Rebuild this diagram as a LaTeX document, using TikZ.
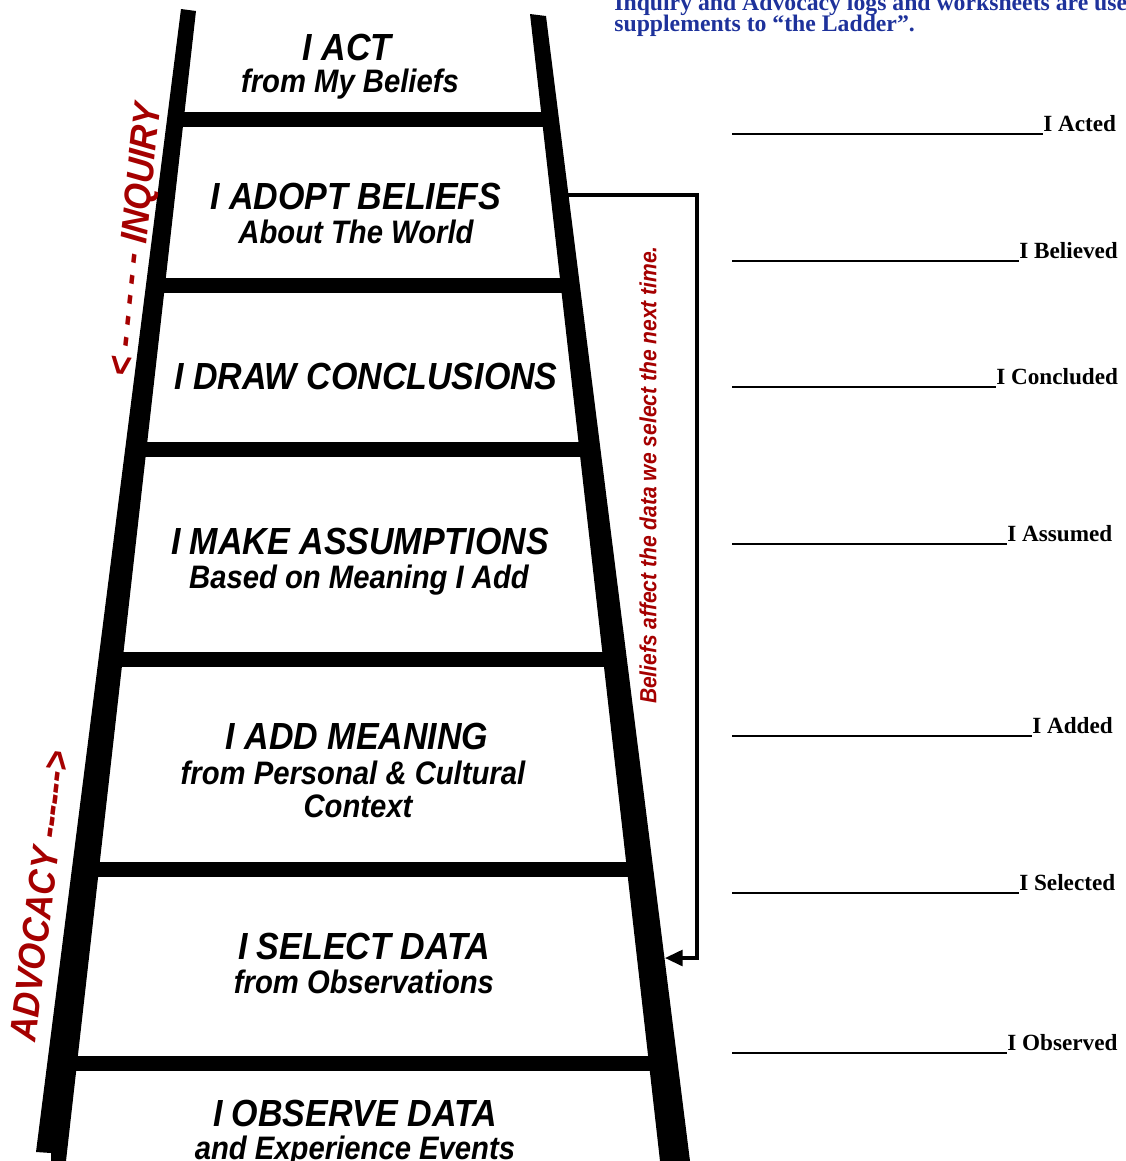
\documentclass[tikz,border=0pt]{standalone}
\usepackage{fontspec}
\usepackage{tikz}
\usetikzlibrary{arrows.meta,positioning}
\setmainfont{Liberation Serif}
\newfontfamily\ladderfont[FakeStretch=0.9]{Liberation Sans}
\definecolor{inqred}{RGB}{165,0,0}
\definecolor{noteblue}{RGB}{30,50,155}
\tikzset{rail/.style={fill=black}}
\tikzset{rung/.style={fill=black}}
\tikzset{step title/.style={anchor=base, inner sep=0pt,
    font=\ladderfont\bfseries\itshape\fontsize{21.5}{24}\selectfont}}
\tikzset{step sub/.style={step title,
    font=\ladderfont\bfseries\itshape\fontsize{18.5}{21}\selectfont}}
\tikzset{side label/.style={inqred, inner sep=0pt,
    font=\ladderfont\bfseries\itshape\fontsize{21.5}{24}\selectfont}}
\tikzset{loop note/.style={side label,
    font=\ladderfont\bfseries\itshape\fontsize{13.3}{15}\selectfont}}
\tikzset{answer/.style={anchor=base west, inner sep=0pt,
    font=\bfseries\fontsize{13.2}{15}\selectfont}}
\tikzset{note/.style={anchor=base west, inner sep=0pt, noteblue,
    font=\bfseries\fontsize{13.5}{15}\selectfont}}
\tikzset{loop edge/.style={draw, line width=1.8pt, -{Triangle[length=10pt,width=9pt]}}}

\begin{document}
\begin{tikzpicture}
      [x=0.02cm, y=-0.02cm]
      \useasboundingbox (0,0) rectangle (1126,1161);
      \clip (0,0) rectangle (1126,1161);

      % the ladder
      \fill [rail] (181,9) -- (196,11) -- (66,1161) -- (51,1161) -- (51,1153) -- (36,1152) -- cycle;
      \fill [rail] (530,14) -- (546,16) -- (690,1161) -- (660,1161) -- cycle;
      \foreach \ya/\xl/\xr in {112/174/552, 278/156/571, 442/138/589,
                               652/115/613, 862/90/637, 1056/70/658}
        \fill [rung] (\xl,\ya) rectangle (\xr,\ya+15);

      % steps
      \node [step title] (act)       at (347,  60) {I ACT};
      \node [step sub]   (act sub)   at (350,  92) {from My Beliefs};
      \node [step title] (adopt)     at (356, 209) {I ADOPT BELIEFS};
      \node [step sub]   (adopt sub) at (356, 243) {About The World};
      \node [step title] (draw)      at (366, 389) {I DRAW CONCLUSIONS};
      \node [step title] (make)      at (360, 554) {I MAKE ASSUMPTIONS};
      \node [step sub]   (make sub)  at (359, 588) {Based on Meaning I Add};
      \node [step title] (add)       at (357, 749) {I ADD MEANING};
      \node [step sub]   (add sub)   at (353, 784) {from Personal \& Cultural};
      \node [step sub]   (add sub2)  at (358, 817) {Context};
      \node [step title] (select)    at (364, 959) {I SELECT DATA};
      \node [step sub]   (select sub) at (364, 993) {from Observations};
      \node [step title] (observe)   at (355,1126) {I OBSERVE DATA};
      \node [step sub]   (observe sub) at (355,1159) {and Experience Events};

      % side labels
      \node [side label, rotate=84] (inquiry)  at (137, 240) {< - - - - - INQUIRY};
      \node [side label, rotate=83] (advocacy) at ( 40, 896) {ADVOCACY ------>};

      % reflexive loop
      \coordinate (loop start) at (568, 195);
      \coordinate (loop end)   at (665, 958);
      \draw [loop edge] (loop start) -- ++(129,0) |- (loop end);
      \node [loop note, rotate=90] (loop text) at (648, 475) {Beliefs affect the data we select the next time.};

      % answers
      \node [answer] (acted)     at (732, 131) {\rule[-2pt]{6.22cm}{1pt}I Acted};
      \node [answer] (believed)  at (732, 258) {\rule[-2pt]{5.74cm}{1pt}I Believed};
      \node [answer] (concluded) at (732, 384) {\rule[-2pt]{5.28cm}{1pt}I Concluded};
      \node [answer] (assumed)   at (732, 541) {\rule[-2pt]{5.50cm}{1pt}I Assumed};
      \node [answer] (added)     at (732, 733) {\rule[-2pt]{6.00cm}{1pt}I Added};
      \node [answer] (selected)  at (732, 890) {\rule[-2pt]{5.74cm}{1pt}I Selected};
      \node [answer] (observed)  at (732,1050) {\rule[-2pt]{5.50cm}{1pt}I Observed};

      % note
      \node [note] (note1) at (614, 10) {Inquiry and Advocacy logs and worksheets are used as};
      \node [note] (note2) at (614, 31) {supplements to “the Ladder”.};
\end{tikzpicture}
\end{document}
